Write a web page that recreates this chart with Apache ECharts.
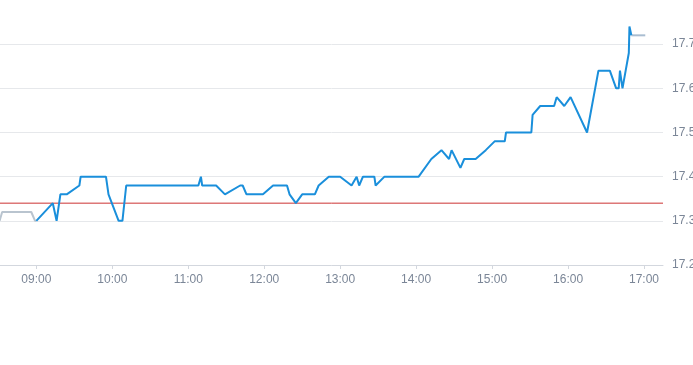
<!DOCTYPE html>
<html>
<head>
<meta charset="utf-8">
<script src="https://cdn.jsdelivr.net/npm/echarts@6/dist/echarts.min.js"></script>
<style>html,body{margin:0;padding:0;background:#fff}#c{width:693px;height:365px}</style>
</head>
<body>
<div id="c"></div>
<script>
// Pre-market (grey)
var preTimes  = ["08:31","08:33","08:56","08:59","09:00"];
var prePrices = [17.30, 17.32, 17.32, 17.30, 17.30];
// Regular session (blue)
var mainTimes = ["09:00","09:13","09:16","09:19","09:24","09:34","09:35","09:55","09:57","09:58","10:05","10:08","10:11",
  "11:08","11:10","11:11","11:22","11:29","11:41","11:43","11:46","11:59","12:07","12:18","12:20","12:25","12:30","12:40","12:43","12:51",
  "13:00","13:09","13:13","13:15","13:18","13:27","13:28","13:35","14:02","14:12","14:20","14:26","14:28","14:35","14:38","14:47","14:55","15:02",
  "15:10","15:11","15:31","15:32","15:38","15:49","15:51","15:57","16:02","16:15","16:24","16:33","16:38","16:40","16:41","16:43","16:48","16:48.5","16:50"];
var mainPrices = [17.30,17.34,17.30,17.36,17.36,17.38,17.40,17.40,17.36,17.36,17.30,17.30,17.38,
  17.38,17.40,17.38,17.38,17.36,17.38,17.38,17.36,17.36,17.38,17.38,17.36,17.34,17.36,17.36,17.38,17.40,
  17.40,17.38,17.40,17.38,17.40,17.40,17.38,17.40,17.40,17.44,17.46,17.44,17.46,17.42,17.44,17.44,17.46,17.48,
  17.48,17.50,17.50,17.54,17.56,17.56,17.58,17.56,17.58,17.50,17.64,17.64,17.60,17.60,17.64,17.60,17.68,17.74,17.72];
// After hours (grey)
var postTimes  = ["16:50","17:01"];
var postPrices = [17.72, 17.72];
var prevClose = 17.34;
var tickLabels = ["09:00","10:00","11:00","12:00","13:00","14:00","15:00","16:00","17:00"];
var axisStart = "08:31.3", axisEnd = "17:15";
var yMin = 17.2, yMax = 17.8, yStep = 0.1;

function toMin(s){var p=s.split(":");return (+p[0])*60+parseFloat(p[1]);}
function pad(n){return (n<10?"0":"")+n;}
function fmt(v){var h=Math.floor(v/60),m=Math.round(v-h*60);return pad(h)+":"+pad(m);}
function pairs(t,p){return t.map(function(s,i){return [toMin(s),p[i]];});}
var tickVals = tickLabels.map(toMin);
var xMin = toMin(axisStart), xMax = toMin(axisEnd);

var chart = echarts.init(document.getElementById('c'), null, {renderer:'canvas'});
chart.setOption({
  animation:false,
  grid:{left:0,right:30,top:0,bottom:100,containLabel:false,outerBoundsMode:'none'},
  xAxis:{
    type:'value', min:xMin, max:xMax,
    axisLine:{lineStyle:{color:'#d3d7de'}},
    axisTick:{show:true,length:4,customValues:tickVals,lineStyle:{color:'#d3d7de'}},
    axisLabel:{customValues:tickVals,formatter:fmt,color:'#7b8697',fontSize:12,margin:9,fontFamily:'sans-serif'},
    splitLine:{show:false}
  },
  yAxis:{
    type:'value', position:'right', min:yMin, max:yMax, interval:yStep,
    axisLine:{show:false}, axisTick:{show:false},
    axisLabel:{color:'#7b8697',fontSize:12,margin:9,showMaxLabel:false,fontFamily:'sans-serif',
      formatter:function(v){return v.toFixed(1);}},
    splitLine:{lineStyle:{color:'#e6e8eb'},showMaxLine:false}
  },
  series:[
    {type:'line',data:[[xMin,prevClose],[xMax,prevClose]],showSymbol:false,silent:true,
      lineStyle:{color:'#cc3333',width:1},itemStyle:{color:'#cc3333'},z:1},
    {type:'line',data:pairs(preTimes,prePrices),showSymbol:false,lineStyle:{color:'#b9c4cf',width:2},z:2},
    {type:'line',data:pairs(postTimes,postPrices),showSymbol:false,lineStyle:{color:'#a9bdd1',width:2},z:2},
    {type:'line',data:pairs(mainTimes,mainPrices),showSymbol:false,lineStyle:{color:'#1a8fdb',width:2},z:3}
  ]
});
</script>
</body>
</html>
